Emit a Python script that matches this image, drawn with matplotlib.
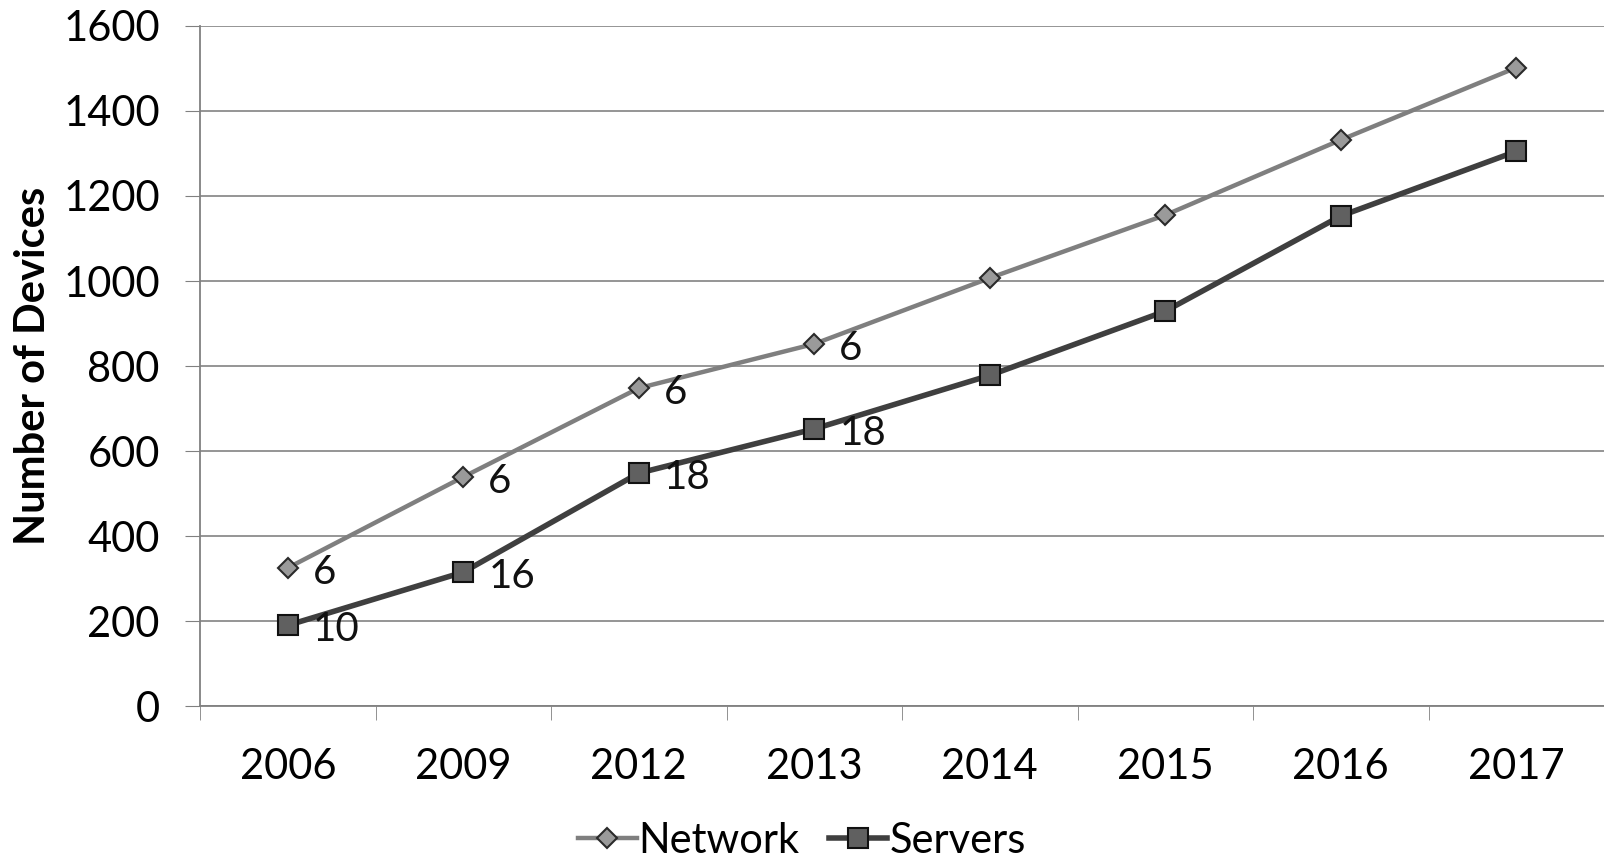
import matplotlib.pyplot as plt

# data
years = ['2006', '2009', '2012', '2013', '2014', '2015', '2016', '2017']
network = [325, 539, 748, 852, 1007, 1155, 1332, 1502]
servers = [190, 315, 548, 652, 778, 929, 1153, 1305]
network_labels = ['6', '6', '6', '6', '', '', '', '']
servers_labels = ['10', '16', '18', '18', '', '', '', '']

plt.rcParams['font.family'] = ['Lato', 'DejaVu Sans']

fig = plt.figure(figsize=(16.04, 8.6), dpi=100)
ax = fig.add_axes([0.1247, 0.179, 0.8753, 0.7908])

x = list(range(len(years)))
ax.plot(x, network, color='#7f7f7f', lw=3.2, marker='D', ms=10,
        mfc='#9a9a9a', mec='#2a2a2a', mew=1.5, label='Network', zorder=3)
ax.plot(x, servers, color='#3f3f3f', lw=4, marker='s', ms=14,
        mfc='#606060', mec='#111111', mew=1.5, label='Servers', zorder=3)

for i, lab in enumerate(network_labels):
    if lab:
        ax.annotate(lab, (x[i], network[i]), xytext=(18, -3), textcoords='offset points',
                    ha='left', va='center', fontsize=29, color='#111111')
for i, lab in enumerate(servers_labels):
    if lab:
        ax.annotate(lab, (x[i], servers[i]), xytext=(18, -3), textcoords='offset points',
                    ha='left', va='center', fontsize=29, color='#111111')

ax.set_xlim(-0.5, len(years) - 0.5)
ax.set_ylim(0, 1600)
ax.set_yticks(range(0, 1601, 200))
ax.set_xticks(x)
ax.set_xticklabels(years)
ax.set_xticks([i - 0.5 for i in range(len(years) + 1)], minor=True)
ax.tick_params(axis='x', which='major', length=0, pad=30, labelsize=30)
ax.tick_params(axis='x', which='minor', length=10, color='#808080')
ax.tick_params(axis='y', length=11, color='#808080', labelsize=30, pad=18)

ax.grid(axis='y', color='#8c8c8c', lw=1.3)
ax.set_axisbelow(True)
for s in ['top', 'right']:
    ax.spines[s].set_visible(False)
for s in ['left', 'bottom']:
    ax.spines[s].set_color('#808080')
    ax.spines[s].set_linewidth(1.3)

ax.set_ylabel('Number of Devices', fontsize=30, fontweight='bold', labelpad=8)

fig.legend(loc='center', bbox_to_anchor=(0.5, 0.022), ncol=2, frameon=False,
           fontsize=30, handlelength=1.4, handletextpad=0.05, columnspacing=0.7)

fig.savefig('out.png', dpi=100)
